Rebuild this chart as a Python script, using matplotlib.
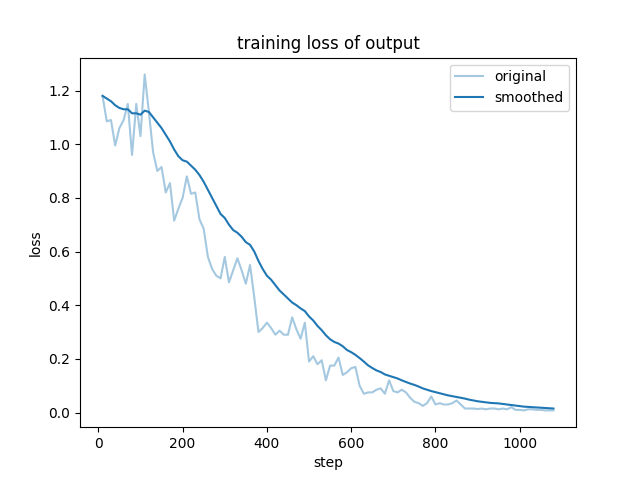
import numpy as np
import matplotlib; matplotlib.use("Agg")
import matplotlib.pyplot as plt

steps = np.arange(10, 1081, 10)
original = [1.18, 1.085, 1.09, 0.995, 1.06, 1.09, 1.15, 0.96, 1.15, 1.03,
            1.26, 1.12, 0.97, 0.90, 0.915, 0.82, 0.855, 0.715, 0.76, 0.80,
            0.88, 0.815, 0.82, 0.72, 0.685, 0.58, 0.535, 0.51, 0.50, 0.58,
            0.485, 0.53, 0.575, 0.53, 0.48, 0.55, 0.43, 0.30, 0.315, 0.335,
            0.315, 0.29, 0.305, 0.29, 0.29, 0.355, 0.31, 0.275, 0.335, 0.19,
            0.21, 0.18, 0.195, 0.12, 0.175, 0.175, 0.205, 0.14, 0.15, 0.165,
            0.17, 0.10, 0.07, 0.075, 0.075, 0.085, 0.09, 0.07, 0.12, 0.08,
            0.075, 0.085, 0.075, 0.055, 0.04, 0.035, 0.025, 0.035, 0.06, 0.03,
            0.035, 0.03, 0.03, 0.035, 0.045, 0.03, 0.015, 0.015, 0.015, 0.013,
            0.015, 0.012, 0.015, 0.015, 0.012, 0.015, 0.012, 0.02, 0.01, 0.01,
            0.008, 0.012, 0.012, 0.01, 0.01, 0.008, 0.008, 0.008]
smoothed = [1.18, 1.17, 1.16, 1.145, 1.135, 1.13, 1.13, 1.115, 1.115, 1.11,
            1.125, 1.12, 1.10, 1.08, 1.06, 1.035, 1.01, 0.98, 0.955, 0.94,
            0.935, 0.92, 0.905, 0.885, 0.86, 0.83, 0.80, 0.77, 0.74, 0.725,
            0.70, 0.68, 0.67, 0.655, 0.635, 0.625, 0.60, 0.565, 0.535, 0.51,
            0.495, 0.475, 0.455, 0.44, 0.425, 0.41, 0.40, 0.388, 0.378, 0.358,
            0.343, 0.323, 0.307, 0.288, 0.273, 0.263, 0.257, 0.247, 0.233, 0.225,
            0.215, 0.203, 0.19, 0.176, 0.166, 0.157, 0.151, 0.142, 0.137, 0.132,
            0.127, 0.12, 0.114, 0.108, 0.103, 0.097, 0.09, 0.085, 0.08, 0.076,
            0.072, 0.068, 0.064, 0.061, 0.058, 0.055, 0.052, 0.048, 0.045, 0.042,
            0.040, 0.038, 0.036, 0.035, 0.034, 0.032, 0.030, 0.028, 0.026, 0.024,
            0.022, 0.021, 0.020, 0.019, 0.018, 0.017, 0.016, 0.015]

fig, ax = plt.subplots(figsize=(6.4, 4.8), dpi=100)
ax.plot(steps, original, color="C0", alpha=0.4, label="original")
ax.plot(steps, smoothed, color="C0", label="smoothed")
ax.set_title("training loss of output")
ax.set_xlabel("step")
ax.set_ylabel("loss")
ax.legend(loc="upper right")
fig.savefig("out.png", dpi=100)
